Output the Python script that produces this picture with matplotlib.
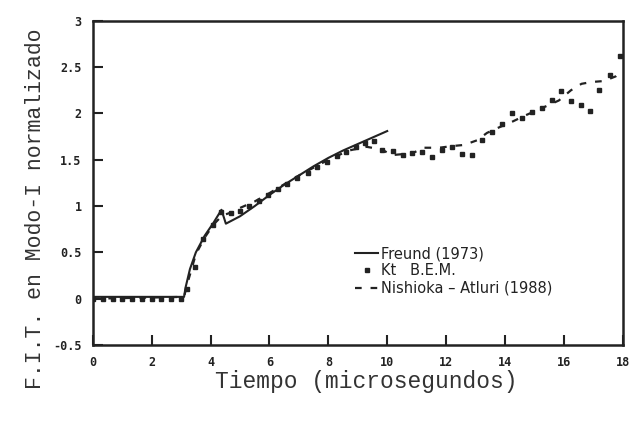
import numpy as np
import matplotlib
matplotlib.use("Agg")
import matplotlib.pyplot as plt

# ---------------------------------------------------------------------
# DATA
# ---------------------------------------------------------------------
# Freund (1973) - solid line
freund_t = [0, 3.1, 3.15, 3.3, 3.5, 3.8, 4.1, 4.37, 4.52, 5.0, 5.5, 6.0,
            6.5, 7.0, 7.5, 8.0, 8.5, 9.0, 9.5, 10.0]
freund_k = [0.02, 0.02, 0.12, 0.32, 0.50, 0.68, 0.82, 0.96, 0.81, 0.89, 1.00, 1.12,
            1.23, 1.33, 1.43, 1.52, 1.60, 1.67, 1.74, 1.81]

# Kt B.E.M. - square markers
bem_t = [0, 0.33, 0.67, 1.0, 1.33, 1.67, 2.0, 2.33, 2.67, 3.0,
         3.2, 3.46, 3.76, 4.07, 4.37, 4.7, 5.0, 5.3, 5.65, 5.95,
         6.3, 6.6, 6.95, 7.3, 7.6, 7.95, 8.3, 8.6, 8.95, 9.25, 9.55,
         9.83, 10.2, 10.54, 10.85, 11.19, 11.53, 11.86, 12.2, 12.54, 12.88,
         13.22, 13.56, 13.9, 14.24, 14.58, 14.92, 15.25, 15.59, 15.9, 16.24,
         16.58, 16.9, 17.2, 17.56, 17.9]
bem_k = [0, 0, 0, 0, 0, 0, 0, 0, 0, 0,
         0.10, 0.34, 0.64, 0.80, 0.94, 0.92, 0.95, 1.00, 1.05, 1.12,
         1.18, 1.24, 1.30, 1.36, 1.42, 1.48, 1.54, 1.58, 1.64, 1.68, 1.70,
         1.61, 1.60, 1.55, 1.57, 1.58, 1.53, 1.61, 1.64, 1.56, 1.55,
         1.71, 1.80, 1.89, 2.00, 1.95, 2.02, 2.06, 2.15, 2.24, 2.13,
         2.09, 2.03, 2.25, 2.42, 2.62]

# Nishioka - Atluri (1988) - dashed line
na_t = [0, 3.1, 3.2, 3.5, 3.8, 4.1, 4.4, 4.7, 5.0, 5.5, 6.0, 7.0, 8.0, 8.7,
        9.3, 9.83, 10.14, 10.85, 11.25, 11.76, 12.27, 12.61, 13.05, 13.39, 13.73,
        14.24, 14.7, 15.2, 15.83, 16.24, 16.6, 16.95, 17.36, 17.76, 18.0]
na_k = [0.0, 0.02, 0.15, 0.48, 0.66, 0.80, 0.90, 0.93, 0.98, 1.05, 1.14, 1.33, 1.50, 1.60,
        1.64, 1.61, 1.55, 1.57, 1.63, 1.63, 1.65, 1.66, 1.71, 1.79, 1.84,
        1.91, 1.98, 2.05, 2.14, 2.25, 2.32, 2.34, 2.35, 2.40, 2.47]

x_ticks = [0, 2, 4, 6, 8, 10, 12, 14, 16, 18]
y_ticks = [-0.5, 0, 0.5, 1, 1.5, 2, 2.5, 3]
y_tick_labels = ["-0.5", "0", "0.5", "1", "1.5", "2", "2.5", "3"]

ink = "#222222"

# ---------------------------------------------------------------------
# PLOT
# ---------------------------------------------------------------------
fig = plt.figure(figsize=(6.4, 4.34), dpi=100)
ax = fig.add_axes([0.145, 0.205, 0.828, 0.747])

ax.plot(freund_t, freund_k, color=ink, lw=1.5, label="Freund (1973)")
ax.plot(bem_t, bem_k, ls="none", marker="s", ms=3.5, color=ink, label="Kt   B.E.M.")
ax.plot(na_t, na_k, color=ink, lw=1.6, ls=(0, (3, 4)), label="Nishioka \u2013 Atluri (1988)")

ax.set_xlim(0, 18)
ax.set_ylim(-0.5, 3)
ax.set_xticks(x_ticks)
ax.set_xticklabels([str(t) for t in x_ticks])
ax.set_yticks(y_ticks)
ax.set_yticklabels(y_tick_labels)

ax.tick_params(direction="in", length=7, width=1.5, colors=ink,
               top=False, right=False, labelsize=8.5)
for lab in ax.get_xticklabels() + ax.get_yticklabels():
    lab.set_fontweight("bold")
    lab.set_family("DejaVu Sans Mono")
ax.tick_params(axis="x", pad=8)
ax.tick_params(axis="y", pad=8)

for sp in ax.spines.values():
    sp.set_linewidth(1.8)
    sp.set_color(ink)

fig.text(0.573, 0.122, "Tiempo (microsegundos)", ha="center", va="center",
         family="Liberation Mono", fontsize=16.5, color="#333333")
fig.text(0.055, 0.52, "F.I.T. en Modo-I normalizado", ha="center", va="center",
         rotation=90, family="Liberation Mono", fontsize=15.5, color="#333333")

leg = ax.legend(loc="upper left", bbox_to_anchor=(0.47, 0.345), frameon=False,
                handlelength=1.6, handletextpad=0.2, labelspacing=0.15,
                prop={"family": "DejaVu Sans", "size": 10.5})
for t in leg.get_texts():
    t.set_color(ink)

fig.savefig("out.png", dpi=100)
